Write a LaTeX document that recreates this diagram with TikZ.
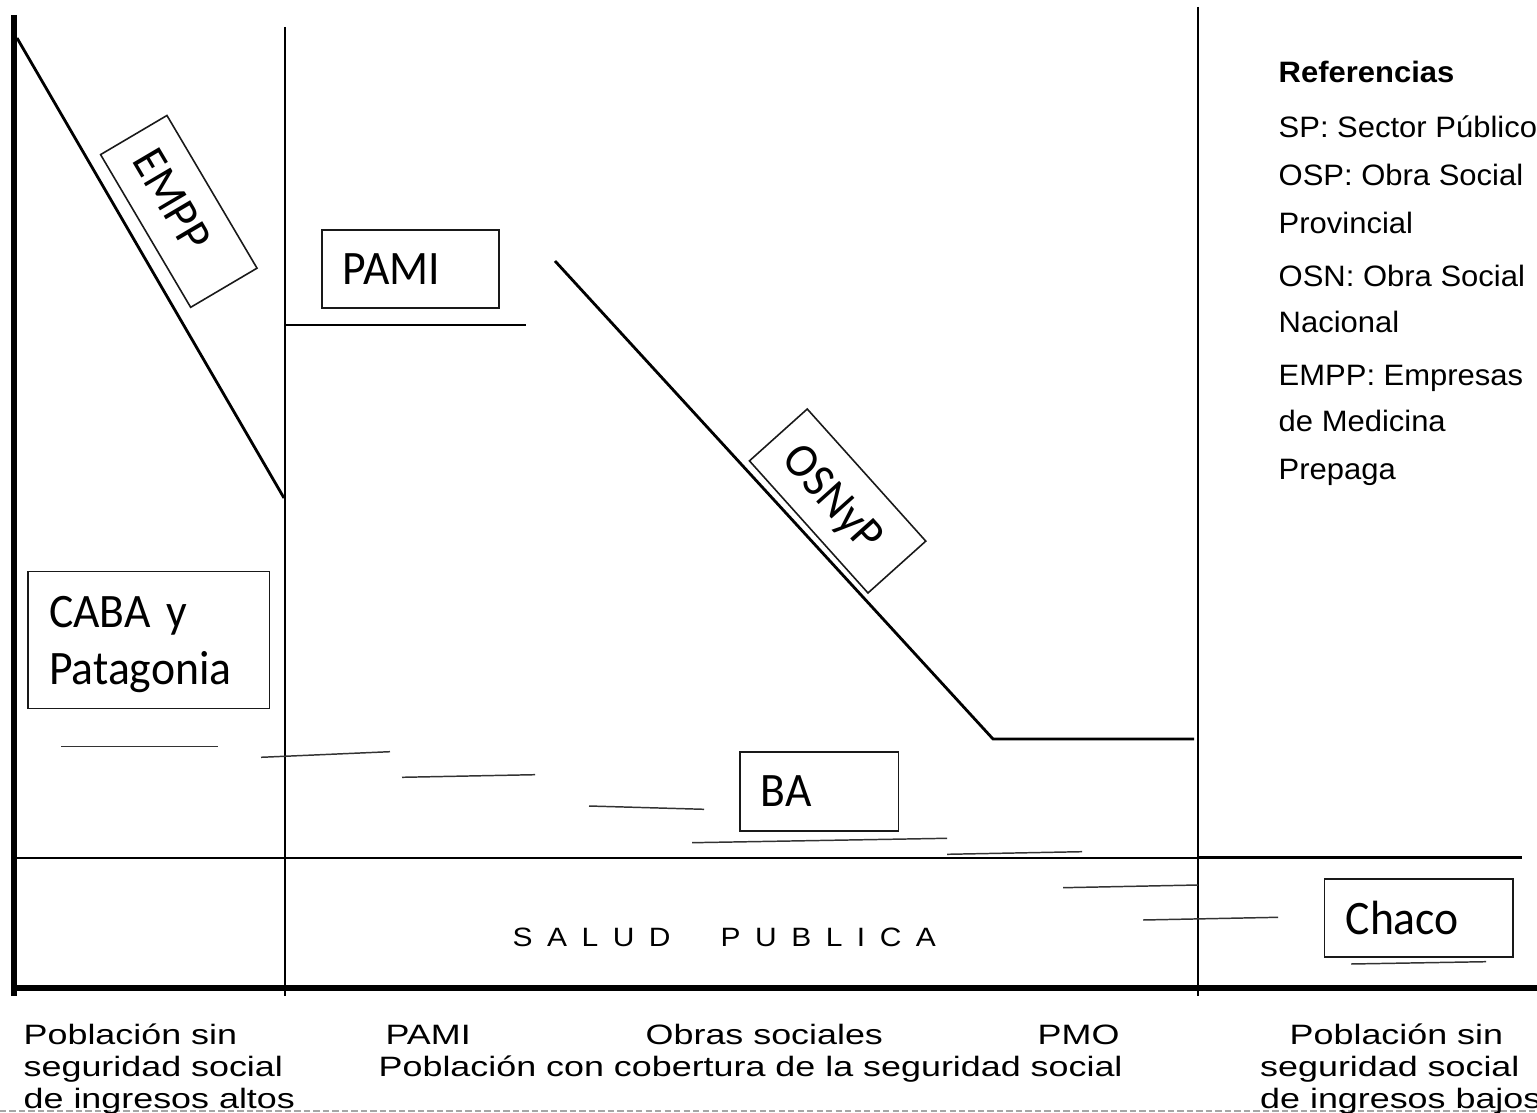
\documentclass[tikz,border=0pt]{standalone}
\usepackage{fontspec}
\setmainfont{Liberation Sans}
\newfontfamily\calfont[FakeStretch=0.95]{Carlito}
\newfontfamily\legfont[FakeStretch=1.05]{Liberation Sans}
\newfontfamily\botfont[FakeStretch=1.28]{Liberation Sans}
\newfontfamily\salfont[FakeStretch=1.13]{Liberation Sans}
\newcommand\ltsp{\hspace{0.145cm}}
\begin{document}
\begin{tikzpicture}[x=0.01cm,y=-0.01cm,
  axisln/.style={line width=1.7pt, black},
  baseln/.style={line width=1.45pt, black},
  thinln/.style={line width=0.3pt, black},
  medln/.style={line width=0.8pt, black},
  rightln/.style={line width=0.7pt, black},
  handln/.style={line width=0.42pt, black!80},
  tbox/.style={draw=black!90, line width=0.45pt, inner xsep=0.21cm, inner ysep=0pt, align=left,
    font=\calfont\fontsize{13.66pt}{16.2pt}\selectfont},
  leg/.style={anchor=base west, inner sep=0pt, font=\legfont\fontsize{8.39pt}{10pt}\selectfont},
  bot/.style={anchor=base west, inner sep=0pt, font=\botfont\fontsize{7.97pt}{9pt}\selectfont},
  sal/.style={anchor=base west, inner sep=0pt, font=\salfont\fontsize{7.54pt}{9pt}\selectfont}
]
\useasboundingbox[fill=white] (0,0) rectangle (1537,1113);

% axes and frame lines
\draw[axisln] (14,15) -- (14,996);
\draw[baseln] (11,988) -- (1537,988);
\draw[thinln] (285,27) -- (285,996);
\draw[thinln] (1198,7) -- (1198,996);
\draw[thinln] (14,858) -- (1198,858);
\draw[rightln] (1198,857.5) -- (1522,857.5);

% main curves
\draw[medln] (17,38) -- (284,498);
\draw[medln] (285,325) -- (526,325);
\draw[medln] (555,261) -- (993,739) -- (1194,739);

% hand drawn short strokes
\draw[handln] (61,746.7) -- (218,746.7);
\draw[handln] (261,757.3) -- (390,751.7);
\draw[handln] (402,777.3) -- (535,774.7);
\draw[handln] (589,806) -- (704,809.3);
\draw[handln] (692,842.7) -- (947,838.3);
\draw[handln] (947,854.3) -- (1082,851.7);
\draw[handln] (1063,887.7) -- (1198,885);
\draw[handln] (1143,920) -- (1278,917.3);
\draw[handln] (1351,964) -- (1486,961.7);

% bottom dashed line
\draw[black!35, line width=0.45pt, dash pattern=on 1.8pt off 0.9pt] (0,1111) -- (1537,1111);

% boxes
\node[tbox, rotate=-59.47, minimum width=1.772cm, minimum height=0.77cm, text width=1.352cm, text depth=0pt] (empp) at (178.8,211.4) {EMPP};
\node[tbox, minimum height=0.78cm, text width=1.35cm] (pami) at (410.5,269) {PAMI};
\node[tbox, rotate=-48.1, minimum width=1.774cm, minimum height=0.776cm, text width=1.354cm, text depth=0pt] (osnyp) at (837.6,501) {OSNyP};
\node[tbox, minimum height=1.366cm, text width=1.99cm, text depth=0.57cm] (caba) at (148.8,640) {CABA y\\Patagonia};
\node[tbox, minimum height=0.784cm, text width=1.166cm] (ba) at (819.3,791.5) {BA};
\node[tbox, minimum height=0.777cm, text width=1.464cm] (chaco) at (1418.9,917.85) {Chaco};

% SALUD PUBLICA
\node[sal] (salud) at (512,946) {S\ltsp A\ltsp L\ltsp U\ltsp D\hspace{0.5cm}P\ltsp U\ltsp B\ltsp L\ltsp I\ltsp C\ltsp A};

% legend
\node[leg] (l1) at (1278,83) {\bfseries Referencias};
\node[leg] (l2) at (1278,138) {SP: Sector Público};
\node[leg] (l3) at (1278,186) {OSP: Obra Social};
\node[leg] (l4) at (1278,234) {Provincial};
\node[leg] (l5) at (1278,287) {OSN: Obra Social};
\node[leg] (l6) at (1278,333) {Nacional};
\node[leg] (l7) at (1278,386) {EMPP: Empresas};
\node[leg] (l8) at (1278,432) {de Medicina};
\node[leg] (l9) at (1278,480) {Prepaga};

% bottom labels
\node[bot] (b1) at (23,1044) {Población sin};
\node[bot] (b2) at (23,1076) {seguridad social};
\node[bot] (b3) at (23,1108) {de ingresos altos};
\node[bot] (b4) at (385,1044) {PAMI};
\node[bot] (b5) at (645,1044) {Obras sociales};
\node[bot] (b6) at (1037,1044) {PMO};
\node[bot] (b7) at (378,1076) {Población con cobertura de la seguridad social};
\node[bot] (b8) at (1289,1044) {Población sin};
\node[bot] (b9) at (1259.5,1076) {seguridad social};
\node[bot] (b10) at (1259.5,1108) {de ingresos bajos};
\end{tikzpicture}
\end{document}
